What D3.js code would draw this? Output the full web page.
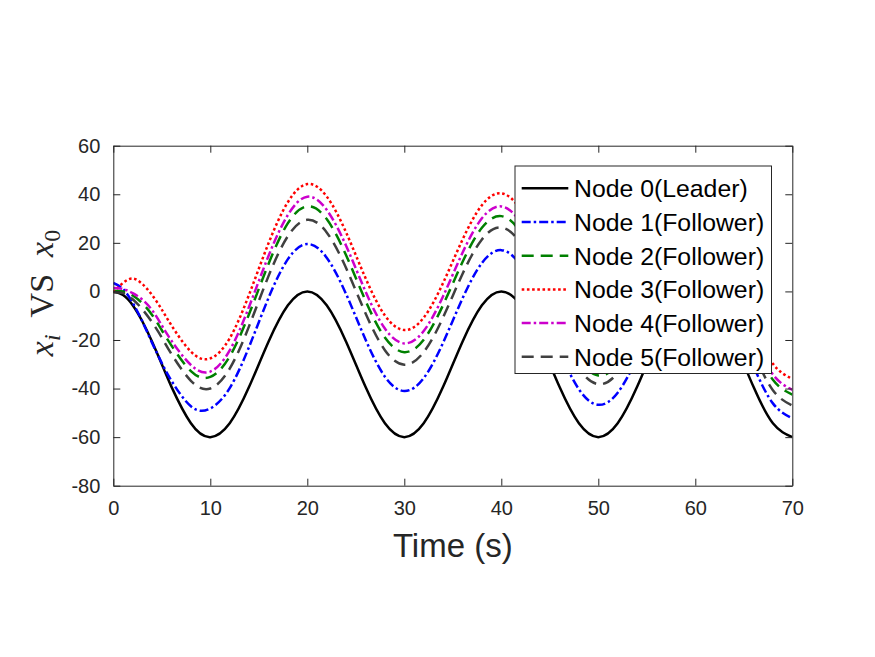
<!DOCTYPE html>
<html>
<head>
<meta charset="utf-8">
<script src="https://cdn.jsdelivr.net/npm/d3@7"></script>
<style>
  body { margin: 0; background: #fff; }
  svg { display: block; }
</style>
</head>
<body>
<script>
// time samples (s)
const time = [0, 1, 2, 3, 4, 5, 6, 8, 10, 12, 14, 16, 18, 20, 22, 24, 26, 28, 30, 32, 34, 36, 38, 40,
    42, 44, 46, 48, 50, 52, 54, 56, 58, 60, 62, 64, 66, 68, 70];

// values
const node0 = [0, -1.5, -5.7, -12.4, -20.7, -30, -39.3, -54.3, -60, -54.3, -39.3, -20.7, -5.7, 0, -5.7, -20.7,
    -39.3, -54.3, -60, -54.3, -39.3, -20.7, -5.7, 0, -5.7, -20.7, -39.3, -54.3, -60, -54.3, -39.3, -20.7,
    -5.7, 0, -5.7, -20.7, -39.3, -54.3, -60];
const node1 = [3.5, 1, -4.7, -12.4, -21.2, -29.5, -36.8, -47.3, -48.2, -39.8, -22.8, -2.7, 13.3, 19.5, 13.9, -1.1,
    -19.8, -35.1, -41, -35.7, -21.1, -2.9, 11.7, 17, 10.7, -5, -24.4, -40.3, -46.7, -41.7, -27.4, -9.5,
    4.9, 10, 3.8, -11.7, -30.7, -46.1, -52.2];
const node2 = [0.3, 0, -1.7, -4.9, -9.7, -16, -22.3, -32.8, -35.2, -26.8, -9.3, 11.3, 28.1, 35, 29.8, 14.9,
    -3.8, -19, -25, -19.9, -5.6, 12.1, 26.2, 31, 24.3, 8.2, -11.6, -27.8, -34.6, -30, -16.1, 1.5,
    15.6, 20.5, 14, -1.7, -20.9, -36.4, -42.5];
const node3 = [-0.5, 3.5, 5.3, 3, -1.5, -7.5, -14, -24.8, -27.6, -19.3, -1.3, 19.8, 36.8, 44.2, 39.1, 24.3,
    5.5, -9.9, -15.9, -10.8, 3.5, 21.3, 35.5, 40.4, 33.6, 17.3, -2.8, -19.3, -26.5, -22.3, -8.6, 8.8,
    22.8, 27.5, 21, 5.3, -14.1, -29.8, -36];
const node4 = [1.4, 1, -0.7, -3.4, -7.7, -14, -20.3, -30.3, -33, -24.3, -6.3, 14.6, 31.5, 39, 33.6, 18.8,
    0, -15.3, -21.4, -16.3, -2, 15.9, 30.1, 35, 28.3, 12.1, -7.8, -24.1, -31, -26.7, -12.9, 4.5,
    18.5, 23.2, 16.6, 0.8, -18.5, -34.2, -40.5];
const node5 = [-0.3, -0.7, -3.2, -7.4, -12.7, -19, -25.8, -36.8, -40, -31.8, -14.3, 6.3, 22.8, 29.5, 24.3, 9.6,
    -9, -24.2, -30.2, -25, -10.7, 7.2, 21.4, 26.3, 19.7, 3.8, -15.8, -31.7, -38.2, -33.5, -19.5, -2,
    12, 16.8, 10.2, -5.6, -25, -40.7, -47];

const names = ["Node 0(Leader)", "Node 1(Follower)", "Node 2(Follower)", "Node 3(Follower)",
    "Node 4(Follower)", "Node 5(Follower)"];
const xTicks = [0, 10, 20, 30, 40, 50, 60, 70];
const yTicks = [-80, -60, -40, -20, 0, 20, 40, 60];

const series = [
    { name: names[0], values: node0, color: "#000000", dash: null },
    { name: names[1], values: node1, color: "#0000ff", dash: "9,3,2.5,3" },
    { name: names[2], values: node2, color: "#008000", dash: "12,7" },
    { name: names[3], values: node3, color: "#ff0000", dash: "2.6,2.6" },
    { name: names[4], values: node4, color: "#cc00cc", dash: "9,3,2.5,3" },
    { name: names[5], values: node5, color: "#404040", dash: "12,7" }
];

const W = 875, H = 657;
const pLeft = 113.3, pRight = 792.3, pTop = 145.7, pBottom = 485.7;
const axisColor = "#262626";

const svg = d3.select("body").append("svg")
    .attr("width", W)
    .attr("height", H);

const x = d3.scaleLinear().domain([0, 70]).range([pLeft, pRight]);
const y = d3.scaleLinear().domain([-80, 60]).range([pBottom, pTop]);

svg.append("defs").append("clipPath").attr("id", "clip")
    .append("rect")
    .attr("x", pLeft).attr("y", pTop)
    .attr("width", pRight - pLeft).attr("height", pBottom - pTop);

// curves
const line = d3.line()
    .x((d, i) => x(time[i]))
    .y(d => y(d))
    .curve(d3.curveNatural);

svg.append("g")
    .attr("clip-path", "url(#clip)")
    .selectAll("path")
    .data(series)
    .enter()
    .append("path")
    .attr("d", d => line(d.values))
    .attr("fill", "none")
    .attr("stroke", d => d.color)
    .attr("stroke-width", 2.5)
    .attr("stroke-dasharray", d => d.dash);

// axes (inward ticks, box on)
const tickLen = 7;
const fontTick = 20;
const plain = d => String(d); // hyphen minus like the original

const xAxisB = d3.axisBottom(x).tickValues(xTicks).tickFormat(plain).tickSizeInner(-tickLen).tickSizeOuter(0).tickPadding(tickLen + 8);
const xAxisT = d3.axisTop(x).tickValues(xTicks).tickSizeInner(-tickLen).tickSizeOuter(0).tickFormat("");
const yAxisL = d3.axisLeft(y).tickValues(yTicks).tickFormat(plain).tickSizeInner(-tickLen).tickSizeOuter(0).tickPadding(tickLen + 6);
const yAxisR = d3.axisRight(y).tickValues(yTicks).tickSizeInner(-tickLen).tickSizeOuter(0).tickFormat("");

function styleAxis(g) {
    g.selectAll("path").attr("stroke", axisColor).attr("stroke-width", 1);
    g.selectAll("line").attr("stroke", axisColor).attr("stroke-width", 1);
    g.selectAll("text")
        .attr("fill", axisColor)
        .attr("font-family", "Liberation Sans, Arial, sans-serif")
        .attr("font-size", fontTick);
}

svg.append("g").attr("transform", `translate(0,${pBottom})`).call(xAxisB).call(styleAxis);
svg.append("g").attr("transform", `translate(0,${pTop})`).call(xAxisT).call(styleAxis);
svg.append("g").attr("transform", `translate(${pLeft},0)`).call(yAxisL).call(styleAxis);
svg.append("g").attr("transform", `translate(${pRight},0)`).call(yAxisR).call(styleAxis);
svg.selectAll(".domain").attr("fill", "none");

// axis labels
svg.append("text")
    .attr("x", (pLeft + pRight) / 2)
    .attr("y", 557)
    .attr("text-anchor", "middle")
    .attr("font-family", "Liberation Sans, Arial, sans-serif")
    .attr("font-size", 33)
    .attr("fill", axisColor)
    .text("Time (s)");

const yl = svg.append("text")
    .attr("transform", "translate(53,293) rotate(-90)")
    .attr("text-anchor", "middle")
    .attr("font-family", "Liberation Serif, Times New Roman, serif")
    .attr("font-size", 34)
    .attr("fill", axisColor);
yl.append("tspan").attr("font-style", "italic").text("x");
yl.append("tspan").attr("font-style", "italic").attr("font-size", 24).attr("dy", 7).text("i");
yl.append("tspan").attr("dy", -7).text("\u00a0\u00a0VS\u00a0\u00a0");
yl.append("tspan").attr("font-style", "italic").text("x");
yl.append("tspan").attr("font-size", 24).attr("dy", 7).text("0");

// legend
const lgX = 515, lgY = 166, lgW = 256.5, lgH = 207.5;
const rowY0 = 188.3, rowStep = 33.7;

const legend = svg.append("g");
legend.append("rect")
    .attr("x", lgX).attr("y", lgY)
    .attr("width", lgW).attr("height", lgH)
    .attr("fill", "#fff")
    .attr("stroke", axisColor)
    .attr("stroke-width", 1);

const rows = legend.selectAll("g.row")
    .data(series)
    .enter()
    .append("g")
    .attr("class", "row")
    .attr("transform", (d, i) => `translate(0,${rowY0 + i * rowStep})`);

rows.append("line")
    .attr("x1", 521.7).attr("x2", 568.3)
    .attr("y1", 0).attr("y2", 0)
    .attr("stroke", d => d.color)
    .attr("stroke-width", 2.5)
    .attr("stroke-dasharray", d => d.dash);

rows.append("text")
    .attr("x", 574)
    .attr("y", 8.8)
    .attr("font-family", "Liberation Sans, Arial, sans-serif")
    .attr("font-size", 24.8)
    .attr("fill", "#000")
    .text(d => d.name);
</script>
</body>
</html>
